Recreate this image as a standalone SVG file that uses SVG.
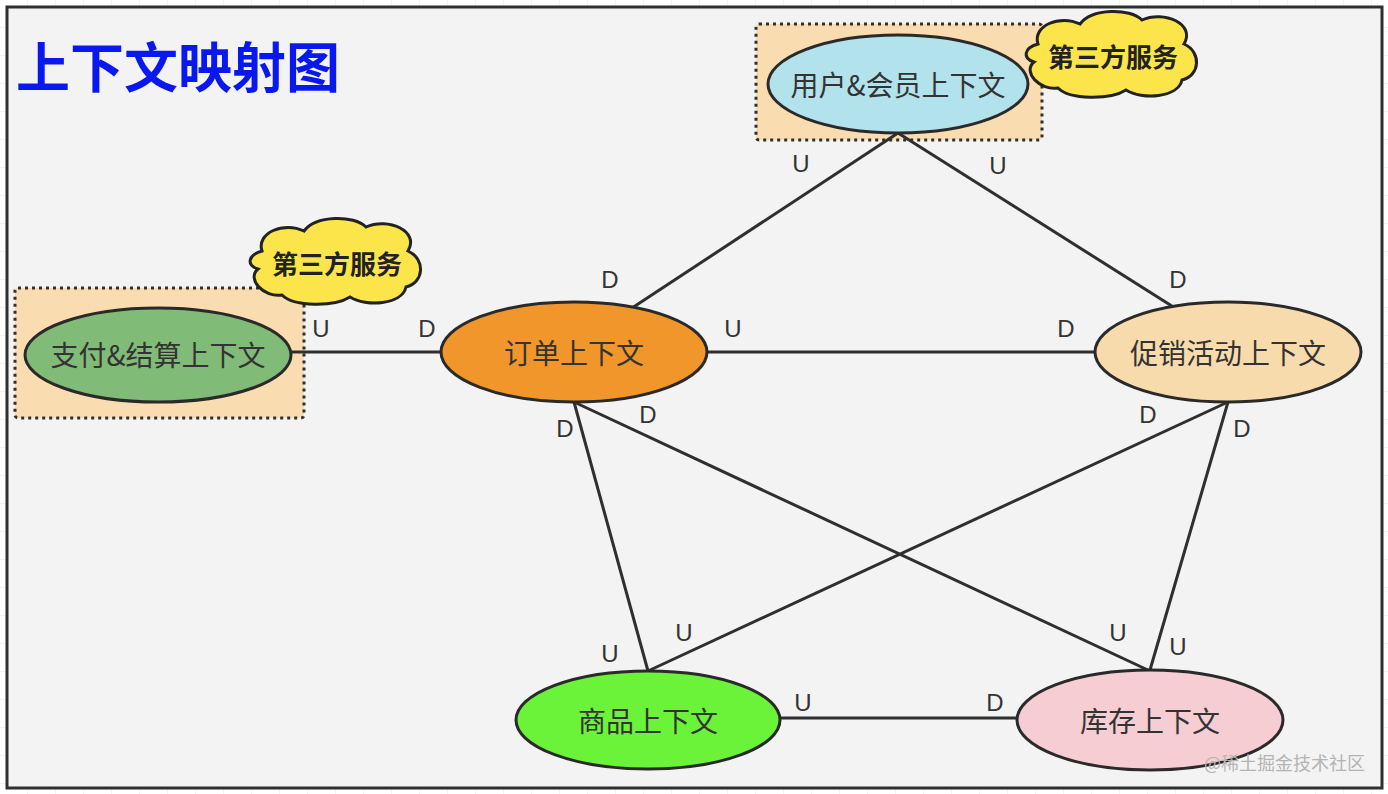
<svg xmlns="http://www.w3.org/2000/svg" width="1388" height="794" viewBox="0 0 1388 794">
<defs>
<pattern id="grid" width="28" height="28" patternUnits="userSpaceOnUse">
<path d="M28 0 V28 M0 28 H28" fill="none" stroke="#e6e6e6" stroke-width="1"/>
</pattern>
<path id="cloud" d="M1038 44 C1032 26 1060 14 1080 24 C1092 8 1130 8 1142 20 C1164 10 1196 24 1184 44 C1202 52 1200 76 1182 80 C1178 98 1142 100 1126 90 C1110 100 1070 100 1058 88 C1040 91 1022 72 1034 62 C1022 58 1024 48 1038 44 Z"/>
</defs>
<style>
.frame{fill:#f3f3f3;stroke:#2f2f2f;stroke-width:3}
.node{stroke:#2a2a2a;stroke-width:3}
.lbl{font-family:"Noto Sans CJK SC","Noto Sans",sans-serif;font-size:28px;fill:#333;text-anchor:middle;dominant-baseline:central}
.ud{font-family:"Liberation Sans","Noto Sans",sans-serif;font-size:24px;fill:#333;text-anchor:middle;dominant-baseline:central}
.conn line{stroke:#2f2f2f;stroke-width:3}
.zone{fill:#f9dcb0;stroke:#2f2f2f;stroke-width:3;stroke-dasharray:3 4}
.cloud{fill:#fbe54a;stroke:#222;stroke-width:3}
.tag{font-family:"Noto Sans CJK SC",sans-serif;font-size:26px;font-weight:bold;fill:#222;text-anchor:middle;dominant-baseline:central}
</style>
<rect width="1388" height="794" fill="#ffffff"/>
<rect width="1388" height="794" fill="url(#grid)"/>
<rect class="frame" x="7" y="7" width="1375" height="781"/>
<text x="16" y="64" font-family="Noto Sans CJK SC,sans-serif" font-size="54" font-weight="bold" fill="#0a18f0" dominant-baseline="central">上下文映射图</text>

<g id="zone-user"><rect class="zone" x="756" y="24" width="286" height="116" rx="3"/></g>
<g id="zone-pay"><rect class="zone" x="15" y="288" width="289" height="130" rx="3"/></g>

<g id="connectors" class="conn">
<line x1="898" y1="133" x2="632" y2="308"/>
<line x1="898" y1="133" x2="1175" y2="308"/>
<line x1="292" y1="352" x2="441" y2="352"/>
<line x1="707" y1="352" x2="1095" y2="352"/>
<line x1="574" y1="402" x2="648" y2="671"/>
<line x1="574" y1="402" x2="1150" y2="671"/>
<line x1="1228" y1="402" x2="648" y2="671"/>
<line x1="1228" y1="402" x2="1150" y2="670"/>
<line x1="780" y1="718" x2="1017" y2="718"/>
</g>
<g id="conn-labels">
<text class="ud" x="801" y="163">U</text>
<text class="ud" x="610" y="279">D</text>
<text class="ud" x="998" y="165">U</text>
<text class="ud" x="1178" y="279">D</text>
<text class="ud" x="321" y="328">U</text>
<text class="ud" x="427" y="328">D</text>
<text class="ud" x="733" y="328">U</text>
<text class="ud" x="1066" y="328">D</text>
<text class="ud" x="565" y="428">D</text>
<text class="ud" x="610" y="653">U</text>
<text class="ud" x="648" y="414">D</text>
<text class="ud" x="1118" y="632">U</text>
<text class="ud" x="1148" y="414">D</text>
<text class="ud" x="684" y="632">U</text>
<text class="ud" x="1242" y="428">D</text>
<text class="ud" x="1178" y="646">U</text>
<text class="ud" x="803" y="702">U</text>
<text class="ud" x="995" y="702">D</text>
</g>

<g id="node-user"><ellipse class="node" cx="898" cy="84" rx="130" ry="49" fill="#b2e3ec"/><text class="lbl" x="898" y="84">用户&amp;会员上下文</text></g>
<g id="node-pay"><ellipse class="node" cx="158" cy="355" rx="133" ry="47" fill="#80bb78"/><text class="lbl" x="158" y="354">支付&amp;结算上下文</text></g>
<g id="node-order"><ellipse class="node" cx="574" cy="352" rx="133" ry="50" fill="#f0962a"/><text class="lbl" x="574" y="352">订单上下文</text></g>
<g id="node-promo"><ellipse class="node" cx="1228" cy="352" rx="133" ry="50" fill="#f8dbac"/><text class="lbl" x="1228" y="352">促销活动上下文</text></g>
<g id="node-goods"><ellipse class="node" cx="648" cy="720" rx="132" ry="49" fill="#6bf33a"/><text class="lbl" x="648" y="720">商品上下文</text></g>
<g id="node-stock"><ellipse class="node" cx="1150" cy="720" rx="133" ry="50" fill="#f5cdd2"/><text class="lbl" x="1150" y="720">库存上下文</text></g>

<g id="cloud-user"><use href="#cloud" class="cloud"/><text class="tag" x="1113" y="55">第三方服务</text></g>
<g id="cloud-pay"><use href="#cloud" class="cloud" transform="translate(-776 207)"/><text class="tag" x="337" y="262">第三方服务</text></g>

<text x="1365" y="762" font-family="Noto Sans CJK SC,sans-serif" font-size="18" fill="#b4b4b4" text-anchor="end" dominant-baseline="central">@稀土掘金技术社区</text>
</svg>
